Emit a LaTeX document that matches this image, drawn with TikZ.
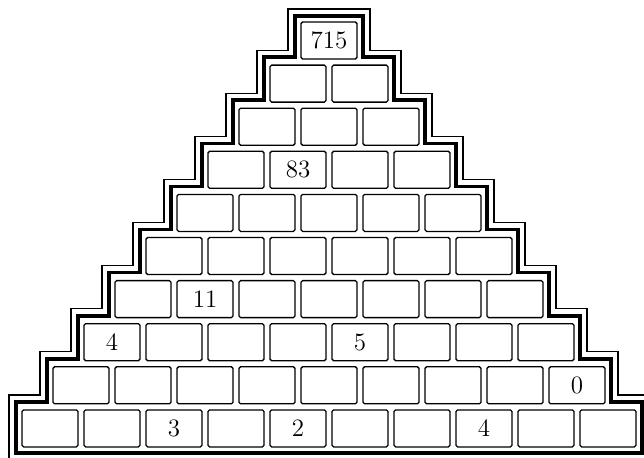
\documentclass[tikz,border=0pt]{standalone}
\usepackage{tikz}
\usetikzlibrary{positioning}

\tikzset{
  cell/.style={draw, line width=0.65pt, rounded corners=0.8pt, minimum width=28pt, minimum height=18.5pt, inner sep=0pt},
  num/.style={font=\fontsize{12.5}{14}\selectfont, inner sep=0pt}
}

\begin{document}
\begin{tikzpicture}[x=0.5pt, y=-0.5pt]
    \useasboundingbox (0,0) rectangle (644,457);
    \clip (0,0) rectangle (644,457);
    % cells, row k has k cells
    \foreach \k in {1,...,10} {
      \foreach \j in {1,...,\k} {
        \node[cell] (b-\k-\j) at ({329+(\j-(\k+1)/2)*62}, {40.5+(\k-1)*43.1}) {};
      }
    }
    % stepped outlines
    \foreach \o/\w in {6/1.8pt, 13/0.6pt} {
      \draw[line width=\w, line join=miter]
        ({329-(10*62-6)/2-\o}, {447+\o})
        \foreach \k in {10,...,2} {
          -- ({329-(\k*62-6)/2-\o}, {22+(\k-1)*43.1-\o-2})
          -- ({329-((\k-1)*62-6)/2-\o}, {22+(\k-1)*43.1-\o-2})
        }
        -- ({329-(62-6)/2-\o}, {22-\o}) -- ({329+(62-6)/2+\o}, {22-\o})
        \foreach \k in {2,...,10} {
          -- ({329+((\k-1)*62-6)/2+\o}, {22+(\k-1)*43.1-\o-2})
          -- ({329+(\k*62-6)/2+\o}, {22+(\k-1)*43.1-\o-2})
        }
        -- ({329+(10*62-6)/2+\o}, {447+\o}) -- cycle;
    }
    % given numbers
    \foreach \k/\j/\v in {1/1/715, 4/2/83, 7/2/11, 8/1/4, 8/5/5, 9/9/0, 10/3/3, 10/5/2, 10/8/4} {
      \node[num] at (b-\k-\j) {\v};
    }
\end{tikzpicture}
\end{document}
